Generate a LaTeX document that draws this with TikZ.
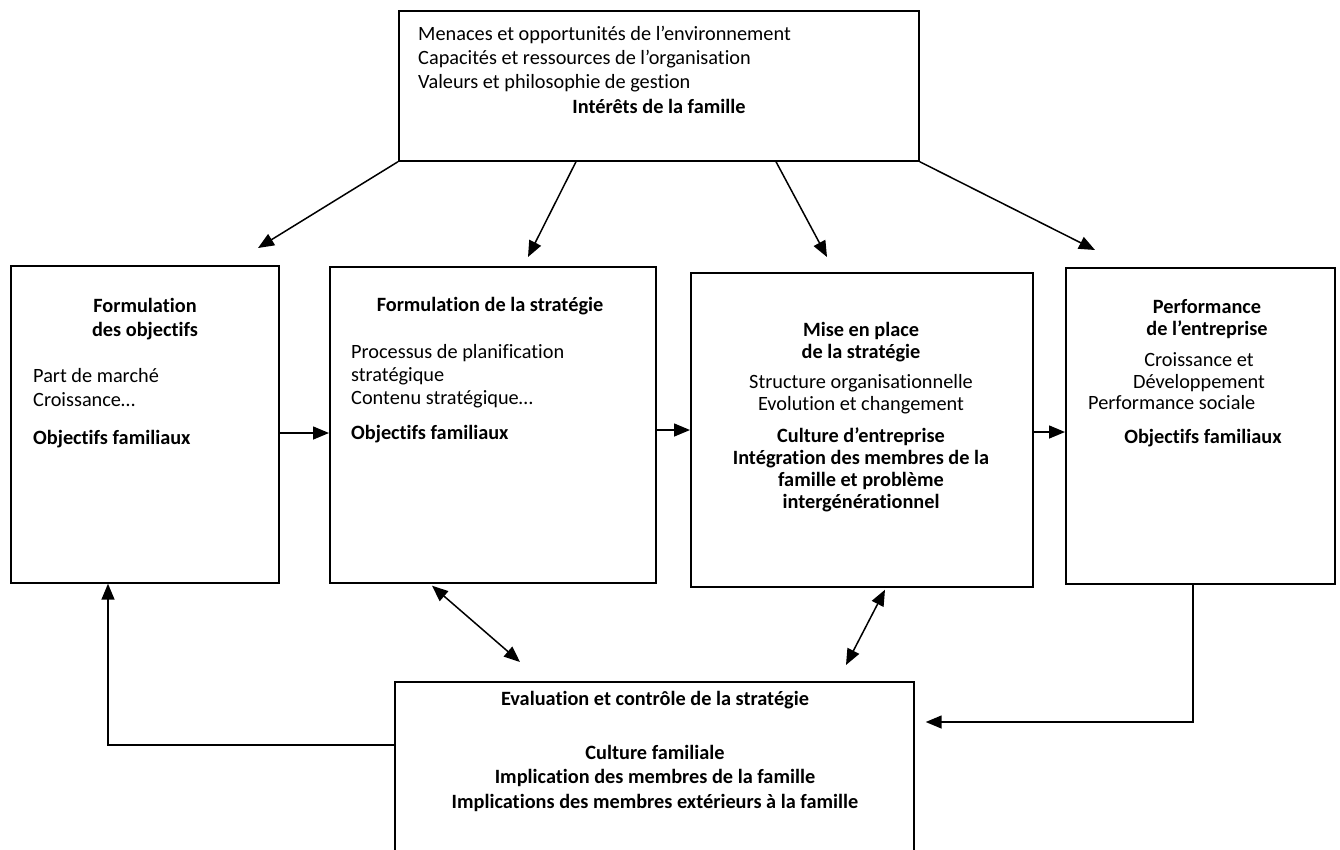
\documentclass[tikz,border=0pt]{standalone}
\usepackage{fontspec}
\setmainfont{Carlito}[Ligatures=NoCommon]
\usetikzlibrary{arrows.meta}
\begin{document}
\begin{tikzpicture}[x=1pt,y=-1pt,
  box/.style={draw, line width=1.7pt, inner sep=0pt, anchor=north west},
  txt/.style={inner sep=0pt, font=\fontsize{20.3}{24}\selectfont, execute at begin node=\strut},
  arr/.style={line width=1.5pt, -{Triangle[length=16pt,width=13pt]}},
  darr/.style={line width=1.5pt, {Triangle[length=16pt,width=13pt]}-{Triangle[length=16pt,width=13pt]}},
]
\useasboundingbox[fill=white] (0,0) rectangle (1340,849);

% boxes
\node[box, minimum width=520pt, minimum height=150pt] (top) at (398,10) {};
\node[box, minimum width=268pt, minimum height=317pt] (f1) at (10,265) {};
\node[box, minimum width=326pt, minimum height=316pt] (f2) at (329,266) {};
\node[box, minimum width=342pt, minimum height=314pt] (f3) at (690,272) {};
\node[box, minimum width=269pt, minimum height=316pt] (f4) at (1065,267) {};
\node[box, minimum width=519pt, minimum height=190pt] (ev) at (394,681) {};

% texts
\node[txt, anchor=north west, align=left] (t1) at (418,26)
  {Menaces et opportunités de l’environnement\\Capacités et ressources de l’organisation\\Valeurs et philosophie de gestion};
\node[txt, anchor=north, font=\fontsize{20.3}{24}\selectfont\bfseries] (t2) at (659,96) {Intérêts de la famille};

\node[txt, anchor=north, align=center, font=\fontsize{20.3}{24}\selectfont\bfseries] (a1) at (145,298) {Formulation\\des objectifs};
\node[txt, anchor=north west, align=left] (a2) at (33,368) {Part de marché\\Croissance…};
\node[txt, anchor=north west, font=\fontsize{20.3}{24}\selectfont\bfseries] (a3) at (33,427) {Objectifs familiaux};

\node[txt, anchor=north, font=\fontsize{20.3}{24}\selectfont\bfseries] (b1) at (490,294) {Formulation de la stratégie};
\node[txt, anchor=north west, align=left, font=\fontsize{20.3}{23}\selectfont] (b2) at (351,344) {Processus de planification\\stratégique\\Contenu stratégique…};
\node[txt, anchor=north west, font=\fontsize{20.3}{24}\selectfont\bfseries] (b3) at (351,422) {Objectifs familiaux};

\node[txt, anchor=north, align=center, font=\fontsize{20.3}{22}\selectfont\bfseries] (c1) at (861,322) {Mise en place\\de la stratégie};
\node[txt, anchor=north, align=center, font=\fontsize{20.3}{22}\selectfont] (c2) at (861,374) {Structure organisationnelle\\Evolution et changement};
\node[txt, anchor=north, align=center, font=\fontsize{20.3}{22}\selectfont\bfseries] (c3) at (861,428) {Culture d’entreprise\\Intégration des membres de la\\famille et problème\\intergénérationnel};

\node[txt, anchor=north, align=center, font=\fontsize{20.3}{22}\selectfont\bfseries] (d1) at (1207,299) {Performance\\de l’entreprise};
\node[txt, anchor=north, align=center, font=\fontsize{20.3}{22}\selectfont] (d2) at (1199,352) {Croissance et\\Développement};
\node[txt, anchor=north west] (d3) at (1088,392) {Performance sociale};
\node[txt, anchor=north, font=\fontsize{20.3}{24}\selectfont\bfseries] (d4) at (1203,426) {Objectifs familiaux};

\node[txt, anchor=north, font=\fontsize{20.3}{24}\selectfont\bfseries] (e1) at (655,688) {Evaluation et contrôle de la stratégie};
\node[txt, anchor=north, align=center, font=\fontsize{20.3}{24.5}\selectfont\bfseries] (e2) at (655,745) {Culture familiale\\Implication des membres de la famille\\Implications des membres extérieurs à la famille};

% free ends of connectors
\coordinate (p1) at (258,248);
\coordinate (p2) at (528,257);
\coordinate (p3) at (827,257);
\coordinate (p4) at (1095,250);
\coordinate (q1) at (520,662);
\coordinate (q2) at (846,665);
\coordinate (h1) at (0,433);
\coordinate (h2) at (0,430);
\coordinate (h3) at (0,432);
\coordinate (h4) at (0,745);
\coordinate (h5) at (0,722);

% arrows from the top box
\draw[arr] (top.south west) -- (p1);
\draw[arr] ([xshift=178pt]top.south west) -- (p2);
\draw[arr] ([xshift=378pt]top.south west) -- (p3);
\draw[arr] (top.south east) -- (p4);

% horizontal chain
\draw[arr] (f1.east |- h1) -- (f2.west |- h1);
\draw[arr] (f2.east |- h2) -- (f3.west |- h2);
\draw[arr] (f3.east |- h3) -- (f4.west |- h3);

% double arrows
\draw[darr] ([xshift=103pt,yshift=-2pt]f2.south west) -- (q1);
\draw[darr] ([xshift=195pt,yshift=-2pt]f3.south west) -- (q2);

% feedback loops
\draw[arr] (ev.west |- h4) -| ([xshift=98pt]f1.south west);
\draw[arr, shorten >=11pt] ([xshift=128pt]f4.south west) |- (ev.east |- h5);
\end{tikzpicture}
\end{document}
